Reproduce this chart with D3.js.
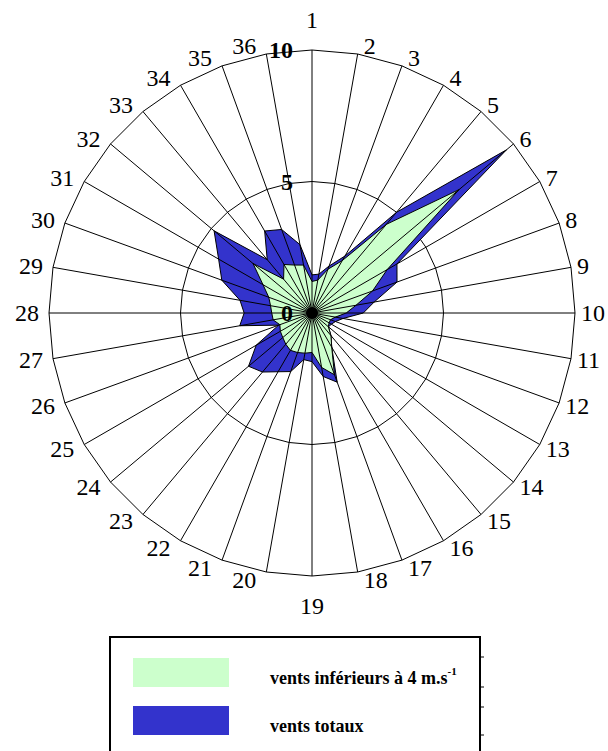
<!DOCTYPE html>
<html>
<head>
<meta charset="utf-8">
<script src="https://cdn.jsdelivr.net/npm/d3@7"></script>
<style>
  body { margin: 0; background: #fff; }
  svg { display: block; font-family: 'Liberation Serif', 'Times New Roman', serif; }
</style>
</head>
<body>
<script>
// directions (sectors 1..36, 10 degrees each)
const directions = ['1','2','3','4','5','6','7','8','9','10','11','12','13','14','15','16','17','18',
  '19','20','21','22','23','24','25','26','27','28','29','30','31','32','33','34','35','36']
const ventsTotaux = [1.45, 1.5, 1.9, 2.5, 5.0, 9.65, 3.73, 3.44, 2.4, 1.95, 1.2, 0.95,
  0.85, 0.82, 1.12, 1.5, 2.8, 2.45, 1.85, 1.8, 2.37, 2.58, 2.93, 3.15,
  2.45, 1.35, 2.79, 2.58, 2.78, 3.65, 4.1, 4.86, 2.65, 3.6, 3.38, 2.64]
const ventsInferieurs = [1.2, 1.27, 1.77, 2.3, 4.4, 7.3, 3.3, 2.45, 1.7, 1.3, 0.9, 0.75,
  0.75, 0.81, 1.12, 1.5, 2.5, 2.1, 1.5, 1.55, 1.6, 1.64, 1.55, 1.45,
  1.39, 1.3, 1.5, 1.53, 1.6, 1.75, 2.15, 2.93, 1.68, 2.13, 1.94, 1.85]
const ticks = [0, 5, 10]
const legendLabels = ['vents inférieurs à 4 m.s', 'vents totaux']

const width = 608
const height = 751
const cx = 312
const cy = 313
const R = 263

const svg = d3.select('body').append('svg')
  .attr('width', width)
  .attr('height', height)

const r = d3.scaleLinear().domain([0, 10]).range([0, R])
const angle = d3.scaleLinear().domain([0, directions.length]).range([0, 2 * Math.PI])

const g = svg.append('g').attr('transform', `translate(${cx},${cy})`)

const radar = d3.lineRadial()
  .angle((d, i) => angle(i))
  .radius((d) => r(d))
  .curve(d3.curveLinearClosed)

// grid rings (polygons)
g.selectAll('path.ring')
  .data(ticks.filter((t) => t > 0))
  .join('path')
  .attr('class', 'ring')
  .attr('d', (t) => radar(directions.map(() => t)))
  .attr('fill', 'none')
  .attr('stroke', '#000')
  .attr('stroke-width', 1)

// series
g.append('path')
  .attr('d', radar(ventsTotaux))
  .attr('fill', '#3333cc')
  .attr('stroke', '#000')
  .attr('stroke-width', 1)

g.append('path')
  .attr('d', radar(ventsInferieurs))
  .attr('fill', '#ccffcc')
  .attr('stroke', '#000')
  .attr('stroke-width', 1)

// spokes
g.selectAll('line.spoke')
  .data(directions)
  .join('line')
  .attr('class', 'spoke')
  .attr('x1', 0)
  .attr('y1', 0)
  .attr('x2', (d, i) => r(10) * Math.sin(angle(i)))
  .attr('y2', (d, i) => -r(10) * Math.cos(angle(i)))
  .attr('stroke', '#000')
  .attr('stroke-width', 1)

g.append('circle').attr('r', 6).attr('fill', '#000')

// direction labels
g.selectAll('text.dir')
  .data(directions)
  .join('text')
  .attr('class', 'dir')
  .attr('font-size', 24)
  .attr('dominant-baseline', 'central')
  .attr('text-anchor', (d, i) => {
    const s = Math.sin(angle(i))
    return Math.abs(s) < 0.01 ? 'middle' : s > 0 ? 'start' : 'end'
  })
  .attr('x', (d, i) => {
    const s = Math.sin(angle(i))
    const x = r(10) * s
    return Math.abs(s) < 0.01 ? x : s > 0 ? x + 6 : x - 10
  })
  .attr('y', (d, i) => {
    const s = Math.sin(angle(i))
    const c = Math.cos(angle(i))
    const y = -r(10) * c
    return Math.abs(s) < 0.01 ? y - c * 30 : y - c * 8
  })
  .text((d) => d)

// tick labels
g.selectAll('text.tick')
  .data(ticks)
  .join('text')
  .attr('class', 'tick')
  .attr('font-size', 24)
  .attr('font-weight', 'bold')
  .attr('text-anchor', 'end')
  .attr('dominant-baseline', 'central')
  .attr('x', -19)
  .attr('y', (t) => -r(t))
  .text((t) => t)

// legend
const legend = svg.append('g').attr('transform', 'translate(110,637)')
legend.append('rect')
  .attr('width', 370)
  .attr('height', 130)
  .attr('fill', '#fff')
  .attr('stroke', '#000')
  .attr('stroke-width', 2)

legend.selectAll('line.lt')
  .data([20, 50, 70, 98])
  .join('line')
  .attr('class', 'lt')
  .attr('x1', 370)
  .attr('x2', 374)
  .attr('y1', (d) => d)
  .attr('y2', (d) => d)
  .attr('stroke', '#000')

const colors = ['#ccffcc', '#3333cc']
const item = legend.selectAll('g.item')
  .data(legendLabels)
  .join('g')
  .attr('class', 'item')
  .attr('transform', (d, i) => `translate(23,${21 + i * 48})`)

item.append('rect')
  .attr('width', 96)
  .attr('height', 29)
  .attr('fill', (d, i) => colors[i])

const lt = item.append('text')
  .attr('x', 137)
  .attr('y', 26)
  .attr('font-size', 18)
  .attr('font-weight', 'bold')
  .text((d) => d)

lt.filter((d, i) => i === 0)
  .append('tspan')
  .attr('dy', -9)
  .attr('font-size', 11)
  .text('-1')
</script>
</body>
</html>
